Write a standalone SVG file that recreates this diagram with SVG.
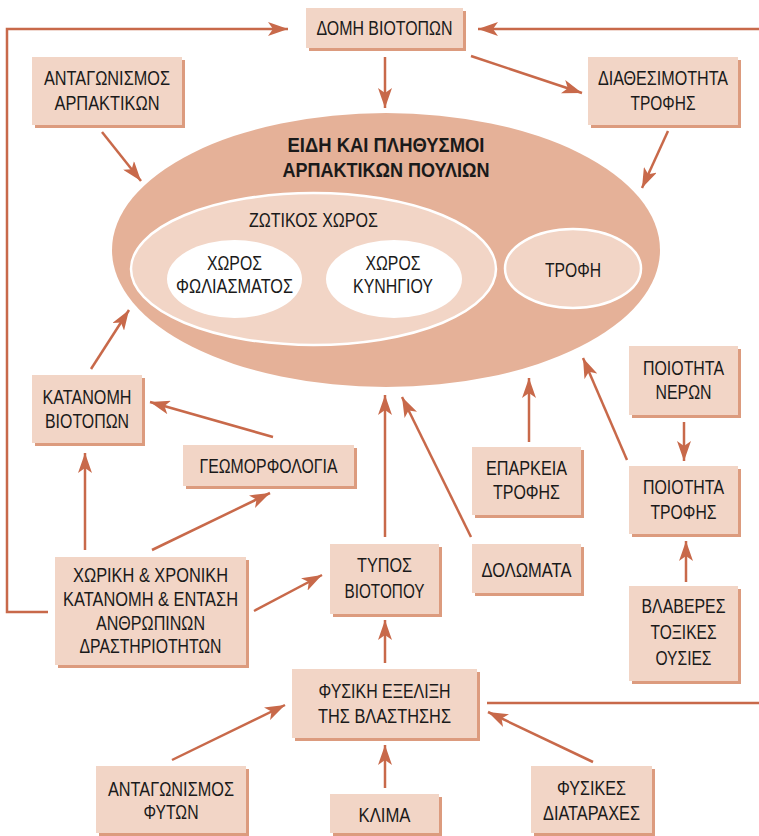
<svg xmlns="http://www.w3.org/2000/svg" width="759" height="836" viewBox="0 0 759 836">
<style>
.box{fill:#f2d5c6}
.sh{fill:#dc9b7e}
text{font-family:"Liberation Sans",Arial,sans-serif;font-size:20px;fill:#1a1a1a;text-anchor:middle}
.b{font-weight:bold;font-size:21px}
.c{fill:none;stroke:#c8694a;stroke-width:2.5}
</style>
<defs>
<marker id="ah" markerUnits="userSpaceOnUse" markerWidth="22" markerHeight="14" refX="20" refY="7" orient="auto">
<path d="M0,0 L20,7 L0,14 L5,7 Z" fill="#c8694a"/>
</marker>
</defs>
<rect width="759" height="836" fill="#fff"/>

<g id="ellipse-main">
<ellipse cx="386" cy="250" rx="274" ry="137" fill="#e5b198"/>
<text class="b" x="386" y="152" textLength="197" lengthAdjust="spacingAndGlyphs">ΕΙΔΗ ΚΑΙ ΠΛΗΘΥΣΜΟΙ</text>
<text class="b" x="386" y="177" textLength="207" lengthAdjust="spacingAndGlyphs">ΑΡΠΑΚΤΙΚΩΝ ΠΟΥΛΙΩΝ</text>
</g>
<g id="ellipse-zotikos">
<ellipse cx="313.5" cy="269" rx="182.5" ry="76" fill="#f2d5c6" stroke="#fff" stroke-width="2.5"/>
<text x="313.5" y="227" textLength="129" lengthAdjust="spacingAndGlyphs">ΖΩΤΙΚΟΣ ΧΩΡΟΣ</text>
</g>
<g id="ellipse-fyllwma">
<ellipse cx="234.5" cy="279" rx="67.5" ry="39" fill="#fff"/>
<text x="234.5" y="270" textLength="55" lengthAdjust="spacingAndGlyphs">ΧΩΡΟΣ</text>
<text x="234.5" y="293" textLength="117" lengthAdjust="spacingAndGlyphs">ΦΩΛΙΑΣΜΑΤΟΣ</text>
</g>
<g id="ellipse-kynigi">
<ellipse cx="394" cy="279" rx="68" ry="39" fill="#fff"/>
<text x="393" y="270" textLength="55" lengthAdjust="spacingAndGlyphs">ΧΩΡΟΣ</text>
<text x="393" y="293" textLength="80" lengthAdjust="spacingAndGlyphs">ΚΥΝΗΓΙΟΥ</text>
</g>
<g id="ellipse-trofi">
<ellipse cx="573" cy="268.5" rx="68" ry="39.5" fill="#f2d5c6" stroke="#fff" stroke-width="2.5"/>
<text x="573" y="277" textLength="56" lengthAdjust="spacingAndGlyphs">ΤΡΟΦΗ</text>
</g>

<g id="connectors">
<path class="c" d="M48,612 H7 V29 H288" marker-end="url(#ah)"/>
<path class="c" d="M487,703 H770 V29 H478" marker-end="url(#ah)"/>
<path class="c" d="M385,57 V108" marker-end="url(#ah)"/>
<path class="c" d="M471,56 L582,93" marker-end="url(#ah)"/>
<path class="c" d="M668,131 L642,188" marker-end="url(#ah)"/>
<path class="c" d="M102,132 L141,181" marker-end="url(#ah)"/>
<path class="c" d="M91,369 L129,310" marker-end="url(#ah)"/>
<path class="c" d="M273,437 L150,402" marker-end="url(#ah)"/>
<path class="c" d="M85,550 V453" marker-end="url(#ah)"/>
<path class="c" d="M152,550 L270,493" marker-end="url(#ah)"/>
<path class="c" d="M254,611 L322,575" marker-end="url(#ah)"/>
<path class="c" d="M385,537 V395" marker-end="url(#ah)"/>
<path class="c" d="M471,537 L402,397" marker-end="url(#ah)"/>
<path class="c" d="M529,442 V378" marker-end="url(#ah)"/>
<path class="c" d="M627,460 L583,358" marker-end="url(#ah)"/>
<path class="c" d="M684,422 V461" marker-end="url(#ah)"/>
<path class="c" d="M686,582 V541" marker-end="url(#ah)"/>
<path class="c" d="M385,663 V620" marker-end="url(#ah)"/>
<path class="c" d="M172,760 L285,705" marker-end="url(#ah)"/>
<path class="c" d="M385,788 V745" marker-end="url(#ah)"/>
<path class="c" d="M593,762 L488,712" marker-end="url(#ah)"/>
</g>

<g id="domi-viotopon">
<rect class="sh" x="309" y="11" width="157" height="40"/>
<rect class="box" x="306" y="8" width="157" height="40"/>
<text x="384.5" y="35" textLength="136" lengthAdjust="spacingAndGlyphs">ΔΟΜΗ ΒΙΟΤΟΠΩΝ</text>
</g>
<g id="antagonismos-arpaktikon">
<rect class="sh" x="35" y="60" width="150" height="68"/>
<rect class="box" x="32" y="57" width="150" height="68"/>
<text x="107" y="85" textLength="126" lengthAdjust="spacingAndGlyphs">ΑΝΤΑΓΩΝΙΣΜΟΣ</text>
<text x="107" y="110" textLength="105" lengthAdjust="spacingAndGlyphs">ΑΡΠΑΚΤΙΚΩΝ</text>
</g>
<g id="diathesimotita-trofis">
<rect class="sh" x="591" y="60" width="150" height="68"/>
<rect class="box" x="588" y="57" width="150" height="68"/>
<text x="663" y="85" textLength="130" lengthAdjust="spacingAndGlyphs">ΔΙΑΘΕΣΙΜΟΤΗΤΑ</text>
<text x="663" y="110" textLength="65" lengthAdjust="spacingAndGlyphs">ΤΡΟΦΗΣ</text>
</g>
<g id="katanomi-viotopon">
<rect class="sh" x="35" y="378" width="110" height="68"/>
<rect class="box" x="32" y="375" width="110" height="68"/>
<text x="87" y="404" textLength="89" lengthAdjust="spacingAndGlyphs">ΚΑΤΑΝΟΜΗ</text>
<text x="87" y="428" textLength="84" lengthAdjust="spacingAndGlyphs">ΒΙΟΤΟΠΩΝ</text>
</g>
<g id="geomorfologia">
<rect class="sh" x="186" y="448" width="171" height="41"/>
<rect class="box" x="183" y="445" width="171" height="41"/>
<text x="268.5" y="473" textLength="138" lengthAdjust="spacingAndGlyphs">ΓΕΩΜΟΡΦΟΛΟΓΙΑ</text>
</g>
<g id="xoriki-xroniki">
<rect class="sh" x="58" y="560" width="191" height="108"/>
<rect class="box" x="55" y="557" width="191" height="108"/>
<text x="150.5" y="582" textLength="155" lengthAdjust="spacingAndGlyphs">ΧΩΡΙΚΗ &amp; ΧΡΟΝΙΚΗ</text>
<text x="150.5" y="606" textLength="175" lengthAdjust="spacingAndGlyphs">ΚΑΤΑΝΟΜΗ &amp; ΕΝΤΑΣΗ</text>
<text x="150.5" y="630" textLength="109" lengthAdjust="spacingAndGlyphs">ΑΝΘΡΩΠΙΝΩΝ</text>
<text x="150.5" y="653" textLength="142" lengthAdjust="spacingAndGlyphs">ΔΡΑΣΤΗΡΙΟΤΗΤΩΝ</text>
</g>
<g id="typos-viotopou">
<rect class="sh" x="333" y="547" width="109" height="70"/>
<rect class="box" x="330" y="544" width="109" height="70"/>
<text x="384.5" y="572" textLength="55" lengthAdjust="spacingAndGlyphs">ΤΥΠΟΣ</text>
<text x="384.5" y="598" textLength="80" lengthAdjust="spacingAndGlyphs">ΒΙΟΤΟΠΟΥ</text>
</g>
<g id="dolomata">
<rect class="sh" x="475" y="547" width="109" height="49"/>
<rect class="box" x="472" y="544" width="109" height="49"/>
<text x="526.5" y="577" textLength="90" lengthAdjust="spacingAndGlyphs">ΔΟΛΩΜΑΤΑ</text>
</g>
<g id="eparkeia-trofis">
<rect class="sh" x="475" y="450" width="109" height="68"/>
<rect class="box" x="472" y="447" width="109" height="68"/>
<text x="526.5" y="475" textLength="81" lengthAdjust="spacingAndGlyphs">ΕΠΑΡΚΕΙΑ</text>
<text x="526.5" y="499" textLength="67" lengthAdjust="spacingAndGlyphs">ΤΡΟΦΗΣ</text>
</g>
<g id="poiotita-neron">
<rect class="sh" x="632" y="349" width="109" height="69"/>
<rect class="box" x="629" y="346" width="109" height="69"/>
<text x="683.5" y="375" textLength="81" lengthAdjust="spacingAndGlyphs">ΠΟΙΟΤΗΤΑ</text>
<text x="683.5" y="399" textLength="56" lengthAdjust="spacingAndGlyphs">ΝΕΡΩΝ</text>
</g>
<g id="poiotita-trofis">
<rect class="sh" x="632" y="469" width="109" height="68"/>
<rect class="box" x="629" y="466" width="109" height="68"/>
<text x="683.5" y="494" textLength="81" lengthAdjust="spacingAndGlyphs">ΠΟΙΟΤΗΤΑ</text>
<text x="683.5" y="519" textLength="66" lengthAdjust="spacingAndGlyphs">ΤΡΟΦΗΣ</text>
</g>
<g id="vlaveres-ousies">
<rect class="sh" x="632" y="589" width="109" height="95"/>
<rect class="box" x="629" y="586" width="109" height="95"/>
<text x="683.5" y="613" textLength="84" lengthAdjust="spacingAndGlyphs">ΒΛΑΒΕΡΕΣ</text>
<text x="683.5" y="639" textLength="66" lengthAdjust="spacingAndGlyphs">ΤΟΞΙΚΕΣ</text>
<text x="683.5" y="665" textLength="56" lengthAdjust="spacingAndGlyphs">ΟΥΣΙΕΣ</text>
</g>
<g id="fysiki-exelixi">
<rect class="sh" x="295" y="672" width="185" height="69"/>
<rect class="box" x="292" y="669" width="185" height="69"/>
<text x="384.5" y="698" textLength="132" lengthAdjust="spacingAndGlyphs">ΦΥΣΙΚΗ ΕΞΕΛΙΞΗ</text>
<text x="384.5" y="723" textLength="133" lengthAdjust="spacingAndGlyphs">ΤΗΣ ΒΛΑΣΤΗΣΗΣ</text>
</g>
<g id="antagonismos-fyton">
<rect class="sh" x="99" y="769" width="150" height="67"/>
<rect class="box" x="96" y="766" width="150" height="67"/>
<text x="171" y="796" textLength="126" lengthAdjust="spacingAndGlyphs">ΑΝΤΑΓΩΝΙΣΜΟΣ</text>
<text x="171" y="819" textLength="55" lengthAdjust="spacingAndGlyphs">ΦΥΤΩΝ</text>
</g>
<g id="klima">
<rect class="sh" x="333" y="797" width="109" height="39"/>
<rect class="box" x="330" y="794" width="109" height="39"/>
<text x="384.5" y="822" textLength="52" lengthAdjust="spacingAndGlyphs">ΚΛΙΜΑ</text>
</g>
<g id="fysikes-diataraxes">
<rect class="sh" x="534" y="769" width="121" height="67"/>
<rect class="box" x="531" y="766" width="121" height="67"/>
<text x="591.5" y="795" textLength="69" lengthAdjust="spacingAndGlyphs">ΦΥΣΙΚΕΣ</text>
<text x="591.5" y="820" textLength="97" lengthAdjust="spacingAndGlyphs">ΔΙΑΤΑΡΑΧΕΣ</text>
</g>
</svg>
